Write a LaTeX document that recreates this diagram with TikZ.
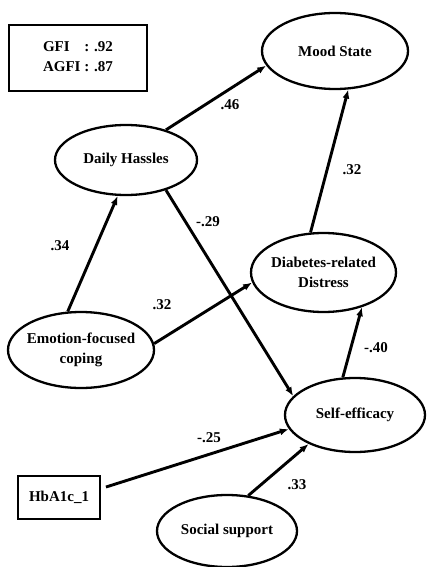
\documentclass[tikz,border=0pt]{standalone}
\usepackage{fontspec}
\setmainfont{Liberation Serif}
\usetikzlibrary{shapes.geometric,arrows.meta}
\begin{document}
\begin{tikzpicture}[x=1pt,y=-1pt, every node/.style={font=\fontsize{15}{20}\selectfont\bfseries},
  latent/.style={draw,ellipse,line width=2.3pt,inner xsep=-6pt,inner ysep=0pt,align=center},
  path/.style={->,line width=2.9pt},
  >={Latex[length=9pt,width=7pt]}]
\useasboundingbox (0,0) rectangle (426,567);
\node[draw,line width=2pt,minimum width=138pt,minimum height=66pt] (fit) at (78,58) {\begin{tabular}{@{}l@{\ }l@{}}GFI & : .92\\ AGFI & : .87\end{tabular}};
\node[latent,minimum width=146pt,minimum height=76pt] (mood) at (335,51) {Mood State};
\node[latent,minimum width=142pt,minimum height=70pt] (hassle) at (126,160) {Daily Hassles};
\node[latent,minimum width=146pt,minimum height=76pt] (cope) at (81,350) {Emotion-focused\\coping};
\node[latent,minimum width=145pt,minimum height=79pt] (distress) at (323.5,272.5) {Diabetes-related\\Distress};
\node[latent,minimum width=140pt,minimum height=74pt] (eff) at (355,415) {Self-efficacy};
\node[latent,minimum width=140pt,minimum height=72pt] (support) at (227,531) {Social support};
\node[draw,line width=2.4pt,minimum width=82pt,minimum height=43pt] (hba) at (59,497.5) {HbA1c\_1};
\foreach \a/\b in {hassle.37/mood.192, cope.109/hassle.257, cope.5/distress.188, hassle.323/eff.163,
  eff.108/distress.-42, distress.108/mood.289, support.59/eff.212}
  \draw[path] (\a) -- (\b);
\draw[path,shorten <=5pt] (hba.12) -- (eff.192);
% path coefficients
\node (c46) at (230,105) {.46};
\node (c34) at (60,246) {.34};
\node (c32a) at (162,305) {.32};
\node (c29) at (208,222) {-.29};
\node (c40) at (376,348) {-.40};
\node (c32b) at (352,170) {.32};
\node (c25) at (209,438) {-.25};
\node (c33) at (297,485) {.33};
\end{tikzpicture}
\end{document}
